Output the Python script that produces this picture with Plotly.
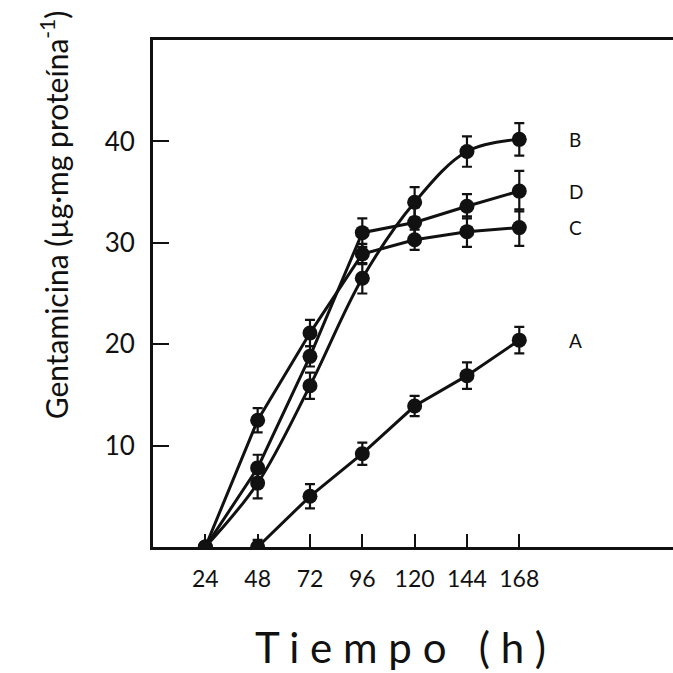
import plotly.graph_objects as go

# Tiempo de cultivo (h)
tiempo = [24, 48, 72, 96, 120, 144, 168]
tiempo_a = [48, 72, 96, 120, 144, 168]

# Gentamicina (ug/mg proteina) por condicion
serie_a = [0.0, 5.0, 9.2, 13.9, 16.9, 20.4]
err_a = [0.7, 1.2, 1.1, 1.0, 1.3, 1.3]

serie_b = [0.0, 6.3, 15.9, 26.5, 34.0, 39.0, 40.2]
err_b = [0.0, 1.5, 1.3, 1.5, 1.5, 1.5, 1.6]

serie_c = [0.0, 12.5, 21.1, 28.9, 30.3, 31.1, 31.5]
err_c = [0.0, 1.2, 1.3, 1.0, 1.0, 1.5, 1.8]

serie_d = [0.0, 7.8, 18.8, 31.0, 32.0, 33.6, 35.1]
err_d = [0.0, 1.3, 1.0, 1.4, 1.5, 1.2, 2.0]

etiquetas = ["A", "B", "C", "D"]
x_ticks = [24, 48, 72, 96, 120, 144, 168]
y_ticks = [10, 20, 30, 40]

FONT = "Lato"
INK = "#111111"

fig = go.Figure()

series = [
    (tiempo_a, serie_a, err_a, "linear"),
    (tiempo, serie_b, err_b, "spline"),
    (tiempo, serie_c, err_c, "linear"),
    (tiempo, serie_d, err_d, "linear"),
]

for (xs, ys, es, shape), name in zip(series, etiquetas):
    fig.add_trace(go.Scatter(
        x=xs, y=ys, name=name, mode="lines+markers",
        line=dict(color=INK, width=3, shape=shape, smoothing=1.0),
        marker=dict(color=INK, size=15, line=dict(width=0)),
        error_y=dict(type="data", array=es, visible=True,
                     color=INK, thickness=2.2, width=5),
        showlegend=False,
    ))
    fig.add_annotation(
        x=190, y=ys[-1], text=name, showarrow=False, xanchor="left",
        font=dict(family=FONT, size=19, color=INK),
    )

fig.update_layout(
    width=673, height=673,
    margin=dict(l=153, r=0, t=40, b=126),
    paper_bgcolor="white", plot_bgcolor="white",
    font=dict(family=FONT, color=INK),
)

fig.update_xaxes(
    range=[0, 238.5], tickvals=x_ticks, ticktext=[str(v) for v in x_ticks],
    ticks="inside", ticklen=13, tickwidth=2, tickcolor=INK,
    showline=True, linewidth=3, linecolor=INK, mirror=True,
    showgrid=False, zeroline=False,
    tickfont=dict(family=FONT, size=23, color=INK),
    ticklabelstandoff=9,
)
fig.update_yaxes(
    range=[0, 50], tickvals=y_ticks, ticktext=[str(v) for v in y_ticks],
    ticks="inside", ticklen=16, tickwidth=2, tickcolor=INK,
    showline=True, linewidth=3, linecolor=INK, mirror=False,
    showgrid=False, zeroline=False,
    tickfont=dict(family=FONT, size=26, color=INK),
    ticklabelstandoff=10,
)

# Titulos de los ejes
fig.add_annotation(
    xref="paper", yref="paper", x=-0.232, y=0.655,
    text="Gentamicina (µg·mg proteína<sup>-1</sup>)",
    textangle=-90, showarrow=False,
    font=dict(family=FONT, size=30, color=INK),
)
fig.add_annotation(
    xref="paper", yref="paper", x=0.475, y=-0.25,
    text="T i e m p o   ( h )", showarrow=False,
    font=dict(family=FONT, size=42, color=INK),
)

fig.write_html("out.html")
